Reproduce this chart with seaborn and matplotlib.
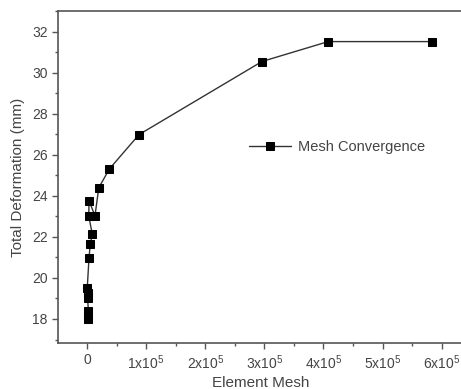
import matplotlib
matplotlib.use("Agg")
import matplotlib.pyplot as plt
import seaborn as sns
import pandas as pd
from matplotlib.ticker import MultipleLocator

# element count vs total deformation, in plotting order
mesh = [1500, 2500, 1000, 2000, 500, 3400, 5600, 9000, 3000, 3500, 13500,
        20000, 37700, 88000, 296000, 408000, 583000]
deformation = [18.0, 18.39, 19.0, 19.25, 19.53, 20.95, 21.66, 22.13, 23.02, 23.77, 23.02,
               24.39, 25.30, 26.98, 30.54, 31.51, 31.51]

xticks = [0, 1e5, 2e5, 3e5, 4e5, 5e5, 6e5]
xtick_labels = ["0"] + [rf"{i}x10$^{{5}}$" for i in range(1, 7)]
yticks = [18, 20, 22, 24, 26, 28, 30, 32]

df = pd.DataFrame({"Element Mesh": mesh, "Total Deformation (mm)": deformation,
                   "series": "Mesh Convergence"})

sns.set_style("ticks")
plt.rcParams["font.family"] = ["Liberation Sans", "DejaVu Sans"]
plt.rcParams["mathtext.fontset"] = "custom"
plt.rcParams["mathtext.rm"] = "Liberation Sans"
plt.rcParams["mathtext.it"] = "Liberation Sans"

text_col = "#444444"
fig = plt.figure(figsize=(4.61, 3.89), dpi=100)
ax = fig.add_axes([58 / 461, 46 / 389, 405 / 461, 332 / 389])

sns.lineplot(data=df, x="Element Mesh", y="Total Deformation (mm)", hue="series",
             palette=["#333333"], sort=False, estimator=None, marker="s",
             markersize=5.5, markerfacecolor="black", markeredgecolor="black",
             linewidth=1.0, ax=ax)

ax.set_xlim(-0.49e5, 6.36e5)
ax.set_ylim(16.83, 33.0)
ax.set_xticks(xticks)
ax.set_xticklabels(xtick_labels)
ax.set_yticks(yticks)
ax.xaxis.set_minor_locator(MultipleLocator(0.5e5))
ax.yaxis.set_minor_locator(MultipleLocator(1))
ax.tick_params(which="major", length=4, width=1, colors="#555555", labelcolor=text_col,
               labelsize=10, direction="out")
ax.tick_params(which="minor", length=2.5, width=1, colors="#555555", direction="out")
for side in ["left", "bottom", "top", "right"]:
    ax.spines[side].set_visible(True)
    ax.spines[side].set_color("#555555")
    ax.spines[side].set_linewidth(1.2)

ax.set_xlabel("Element Mesh", fontsize=11, color=text_col, labelpad=3)
ax.set_ylabel("Total Deformation (mm)", fontsize=11, color=text_col, labelpad=5)

leg = ax.legend(loc="center left", bbox_to_anchor=(0.44, 0.59), frameon=False,
                fontsize=10.5, handlelength=2.85, handletextpad=0.5)
for t in leg.get_texts():
    t.set_color(text_col)

plt.savefig("out.png", dpi=100)
plt.close()
